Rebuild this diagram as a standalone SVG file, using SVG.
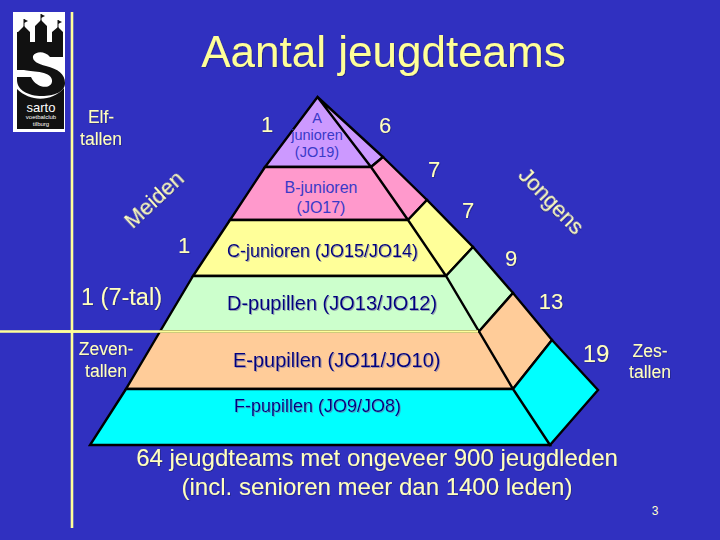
<svg xmlns="http://www.w3.org/2000/svg" width="720" height="540" viewBox="0 0 720 540">
<defs>
<filter id="sh" x="-10%" y="-30%" width="120%" height="160%"><feDropShadow dx="0.8" dy="0.8" stdDeviation="0.4" flood-color="#202060" flood-opacity="0.6"/></filter>
<filter id="shin" x="-10%" y="-30%" width="120%" height="160%"><feDropShadow dx="1" dy="1" stdDeviation="0.6" flood-color="#7070A0" flood-opacity="0.6"/></filter>
</defs>
<style>
text{font-family:"Liberation Sans",Arial,sans-serif;}
.p{stroke:#000;stroke-width:2.4;stroke-linejoin:miter;}
.l{fill:#FFFFBE;filter:url(#sh);text-anchor:middle;}
.s{font-size:17.5px;font-weight:400;}
.n{font-size:22px;}
.in{fill:#000080;filter:url(#shin);}
.soft{fill:#3A3AC8;text-anchor:middle;}
.y{stroke:#FFFF99;fill:none;stroke-width:2.6;}
</style>
<rect width="720" height="540" fill="#3030C0"/>

<g id="logo">
<rect x="13" y="12" width="52" height="120" fill="#fff"/>
<path d="M24 19V27M41 14V22M58 20V28" stroke="#111" stroke-width="1" fill="none"/>
<path d="M24 19l4 2-4 2zM41 14l4 2-4 2zM58 20l4 2-4 2z" fill="#111"/>
<path d="M18 32L24 26L30 32V42H35V26L41 20L47 26V42H52V32L58 27L63 32V57H50C45 51 36 51 33 56C32 61 38 64 46 66C58 69 65 74 65 83C65 92 54 96 42 96C28 96 17 90 17 80V32Z" fill="#111"/>
<path d="M13 70H24C30 72 50 70 52 80C53 90 36 89 31 77H13Z" fill="#fff"/>
<path d="M17 89C30 102 52 102 64 88V129H17Z" fill="#111"/>
<text x="41" y="112" fill="#fff" font-size="13" text-anchor="middle">sarto</text>
<text x="41" y="119" fill="#fff" font-size="6" text-anchor="middle">voetbalclub</text>
<text x="41" y="126" fill="#fff" font-size="6" text-anchor="middle">tilburg</text>
</g>

<g id="title"><text x="383.500" y="67" text-anchor="middle" font-size="44" fill="#FFFF99" filter="url(#sh)">Aantal jeugdteams</text></g>

<g id="level-a">
<path class="p" fill="#CC99FF" d="M317.500 97L265 167H371ZM317.500 97L383 157L371 167Z"/>
<text class="soft" x="317" y="123" font-size="14.500">A</text>
<text class="soft" x="317" y="140" font-size="14.500">junioren</text>
<text class="soft" x="317" y="157" font-size="14.500">(JO19)</text>
</g>
<g id="level-b">
<path class="p" fill="#FF99CC" d="M265 167L230 220H408L371 167ZM371 167L383 157L427 200L408 220Z"/>
<text class="soft" x="321" y="193" font-size="16">B-junioren</text>
<text class="soft" x="321" y="213" font-size="16">(JO17)</text>
</g>
<g id="level-c">
<path class="p" fill="#FFFF99" d="M230 220L193 276H446L408 220ZM408 220L427 200L473 247L446 276Z"/>
<text class="in" x="227" y="257" font-size="18">C-junioren (JO15/JO14)</text>
</g>
<g id="level-d">
<path class="p" fill="#CCFFCC" d="M193 276L160 331.500H479L446 276ZM446 276L473 247L513 293L479 331.500Z"/>
<text class="in" x="227" y="310" font-size="20">D-pupillen (JO13/JO12)</text>
</g>
<g id="level-e">
<path class="p" fill="#FFCC99" d="M160 331.500L126 389H513L479 331.500ZM479 331.500L513 293L552 340L513 389Z"/>
<text class="in" x="233" y="367" font-size="20">E-pupillen (JO11/JO10)</text>
</g>
<g id="level-f">
<path class="p" fill="#00FFFF" d="M126 389L90 445H550L513 389ZM513 389L552 340L598 390L550 445Z"/>
<text class="in" x="234" y="412" font-size="18">F-pupillen (JO9/JO8)</text>
</g>

<g id="connectors">
<path class="y" d="M72 12V528"/>
<path class="y" d="M0 331.500H478"/>
<path class="y" stroke-width="3.500" d="M50 331.500H100"/>
</g>

<g id="labels">
<text class="l s" x="101" y="123">Elf-</text>
<text class="l s" x="101" y="145">tallen</text>
<text class="l n" x="267" y="132">1</text>
<text class="l n" x="385" y="133">6</text>
<text class="l n" x="434" y="177">7</text>
<text class="l n" x="468" y="218">7</text>
<text class="l n" x="511" y="266">9</text>
<text class="l n" x="551" y="309">13</text>
<text class="l" x="596" y="362" font-size="24">19</text>
<text class="l s" x="650" y="357">Zes-</text>
<text class="l s" x="650" y="378">tallen</text>
<text class="l n" x="184" y="253">1</text>
<text class="l" x="121.500" y="305" font-size="23.500">1 (7-tal)</text>
<text class="l s" x="106" y="355">Zeven-</text>
<text class="l s" x="106" y="377">tallen</text>
<text class="l" font-size="22" transform="translate(159 205) rotate(-43)">Meiden</text>
<text class="l" font-size="22" transform="translate(546 206) rotate(46)">Jongens</text>
<text class="l" x="377" y="466" font-size="24">64 jeugdteams met ongeveer 900 jeugdleden</text>
<text class="l" x="377" y="495" font-size="24">(incl. senioren meer dan 1400 leden)</text>
<text x="655" y="515" font-size="12" fill="#FFFFCC" text-anchor="middle">3</text>
</g>
</svg>
